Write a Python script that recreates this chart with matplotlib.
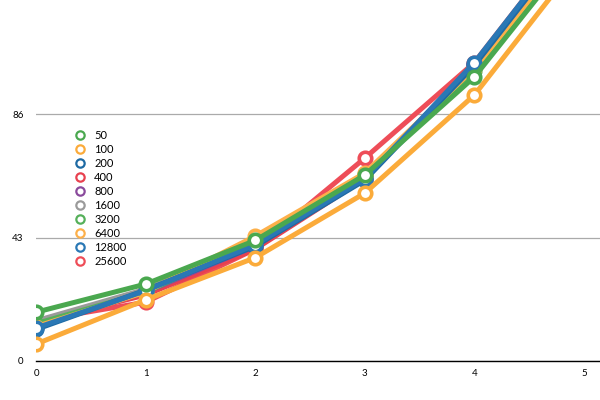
import matplotlib
matplotlib.use('Agg')
import matplotlib.pyplot as plt
from matplotlib.lines import Line2D

x = [0, 1, 2, 3, 4, 5]
labels = ['50', '100', '200', '400', '800', '1600', '3200', '6400', '12800', '25600']
colors = ['#4aa84f', '#fbab3a', '#1e6aa3', '#e8414f', '#8a4a9c',
          '#9a9a9a', '#55b05a', '#fdb04a', '#2a78b5', '#ee4d58']
values = [
    [17.0, 26.8, 42.0, 64.8, 99.0, 147.0],
    [5.9, 21.3, 36.0, 58.5, 92.7, 141.7],
    [11.0, 24.7, 40.0, 63.0, 103.0, 152.0],
    [13.5, 23.0, 39.0, 63.5, 103.5, 153.0],
    [12.0, 24.0, 40.0, 64.0, 103.0, 152.0],
    [14.0, 25.0, 41.0, 64.0, 102.0, 151.0],
    [13.0, 24.0, 41.5, 65.0, 101.0, 147.0],
    [12.0, 24.0, 43.5, 65.5, 102.0, 149.0],
    [11.5, 24.5, 40.5, 63.5, 104.0, 153.0],
    [14.0, 20.5, 39.0, 70.7, 104.0, 153.0],
]
yticks = [0, 43, 86]

plt.rcParams['font.family'] = ['Lato', 'DejaVu Sans']
fig = plt.figure(figsize=(6, 4), dpi=100)
ax = fig.add_axes([0.06, 0.0975, 0.94, 0.9025])

# draw order picked so the stacking looks like the original
order = [9, 3, 4, 5, 6, 7, 2, 8, 1, 0]
for z, i in enumerate(order):
    ax.plot(x, values[i], color=colors[i], lw=3.6, marker='o', ms=9,
            mfc='white', mec=colors[i], mew=2.6, zorder=3 + z)

ax.set_xlim(0, 5.146)
ax.set_ylim(0, 125.8)
ax.set_xticks(x)
ax.set_yticks(yticks)
ax.tick_params(length=0, labelsize=7, pad=9)
ax.tick_params(axis='x', pad=6)
for s in ['top', 'right', 'left']:
    ax.spines[s].set_visible(False)
ax.spines['bottom'].set_color('black')
ax.spines['bottom'].set_linewidth(1)
ax.grid(axis='y', color='#aaaaaa', lw=0.9)
ax.set_axisbelow(True)

handles = [Line2D([], [], ls='none', marker='o', ms=6, mfc='white', mec=c, mew=1.6)
           for c in colors]
ax.legend(handles, labels, loc='upper left', bbox_to_anchor=(0.058, 0.655),
          frameon=False, fontsize=8, handlelength=1.0, handletextpad=0.8,
          labelspacing=0.27, borderpad=0)

fig.savefig('out.png')
